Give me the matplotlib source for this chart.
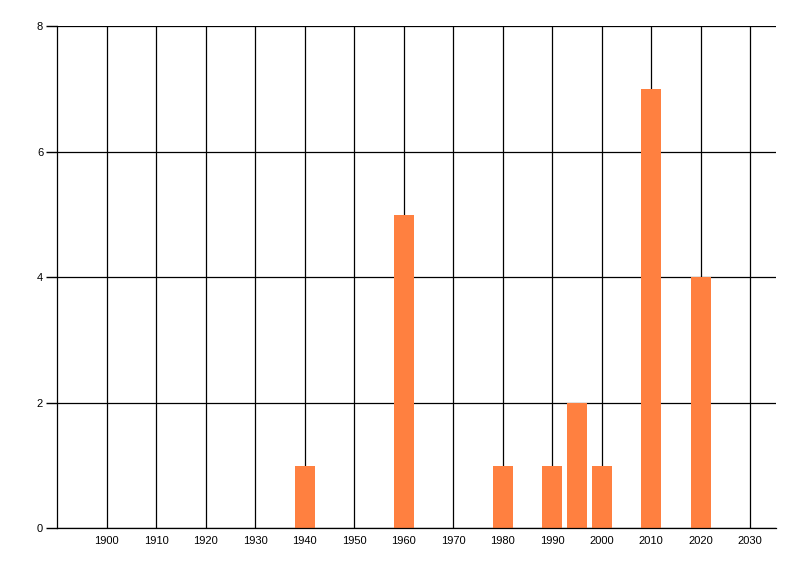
import numpy as np
import matplotlib.pyplot as plt

years = [1940, 1960, 1980, 1990, 1995, 2000, 2010, 2020]
counts = [1, 5, 1, 1, 2, 1, 7, 4]
xticks = list(range(1900, 2031, 10))
yticks = [0, 2, 4, 6, 8]

plt.rcParams['font.family'] = ['Liberation Sans', 'DejaVu Sans']

fig = plt.figure(figsize=(8, 5.76), dpi=100)
ax = fig.add_axes([0.0713, 0.0828, 0.8987, 0.8715])

ax.bar(years, counts, width=4, color="#FF8040", zorder=2)

ax.set_xlim(1890, 2035.2)
ax.set_ylim(0, 8)
ax.set_xticks(xticks)
ax.set_yticks(yticks)
ax.tick_params(axis="x", length=0, pad=5.5, labelsize=8, colors="black")
ax.tick_params(axis="y", length=8, width=1, pad=2, labelsize=8)

ax.set_axisbelow(True)
ax.grid(True, color="black", linewidth=0.9)
for s in ["top", "right"]:
    ax.spines[s].set_visible(False)
for s in ["left", "bottom"]:
    ax.spines[s].set_linewidth(0.9)

fig.savefig("out.png", dpi=100)
